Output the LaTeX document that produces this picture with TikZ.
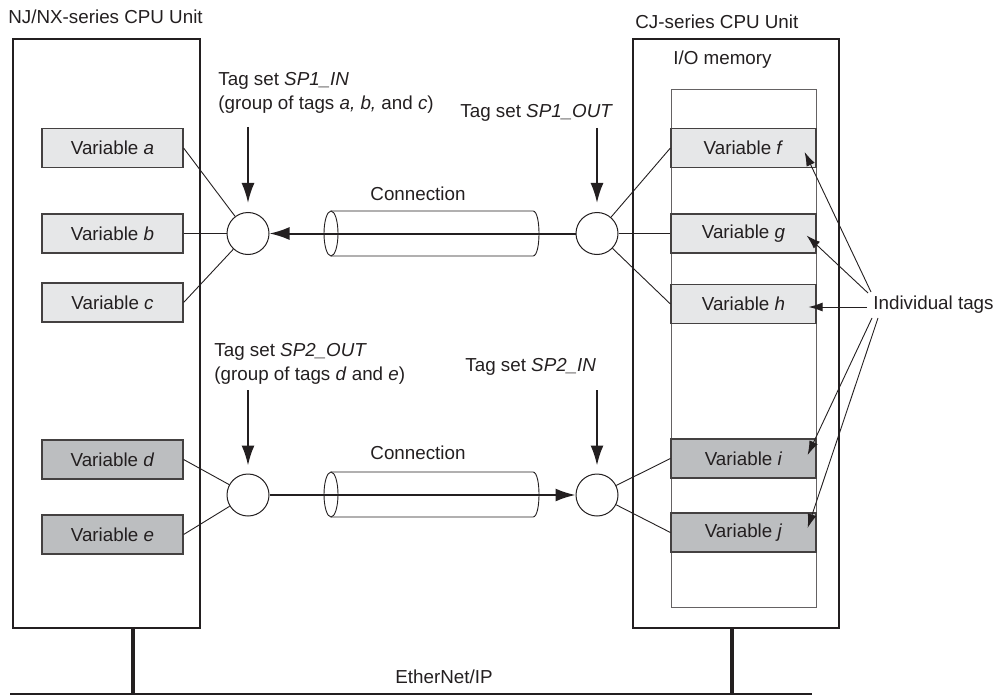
\documentclass[tikz,border=0pt]{standalone}
\usepackage{fontspec}
\setmainfont{Liberation Sans}
\usetikzlibrary{arrows.meta,calc}
\definecolor{ink}{RGB}{35,31,32}
\definecolor{lightvar}{RGB}{230,231,232}
\definecolor{darkvar}{RGB}{188,190,192}

\begin{document}
\begin{tikzpicture}[x=0.5pt,y=-0.5pt,
  every node/.style={font=\fontsize{9.4}{12}\selectfont, text=ink},
  lbl/.style={inner sep=0pt},
  cpubox/.style={draw=ink, line width=1pt},
  varbox/.style={draw=ink!85, line width=0.6pt, minimum height=19.5pt, inner sep=0pt},
  lvar/.style={varbox, minimum width=70.5pt},
  rvar/.style={varbox, minimum width=72.5pt},
  tagset/.style={circle, draw=ink, line width=0.5pt, minimum size=21pt, inner sep=0pt, fill=white},
  link/.style={draw=ink, line width=0.45pt},
  sendarrow/.style={draw=ink, line width=1pt, -{Latex[length=10pt,width=6.5pt]}},
  pointer/.style={draw=ink, line width=0.45pt, -{Latex[length=7pt,width=4.5pt]}}]
  \useasboundingbox (0,0) rectangle (999,695);

  % CPU units
  \draw[cpubox] (13,39) rectangle (200,628);
  \draw[cpubox] (633,39) rectangle (839,628);
  \draw[draw=ink!70, line width=0.5pt] (671,90) rectangle (816,607);
  \node[lbl, anchor=west] (njtitle) at (8,17) {NJ/NX-series CPU Unit};
  \node[lbl, anchor=west] (cjtitle) at (635,22) {CJ-series CPU Unit};
  \node[lbl, anchor=west] (iomem) at (673,60) {I/O memory};

  % variables
  \node[lvar, fill=lightvar] (va) at (112.5,148) {Variable \textit{a}};
  \node[lvar, fill=lightvar] (vb) at (112.5,233.5) {Variable \textit{b}};
  \node[lvar, fill=lightvar] (vc) at (112.5,302.5) {Variable \textit{c}};
  \node[lvar, fill=darkvar] (vd) at (112.5,459.5) {Variable \textit{d}};
  \node[lvar, fill=darkvar] (ve) at (112.5,534.5) {Variable \textit{e}};
  \node[rvar, fill=lightvar] (vf) at (743.5,148) {Variable \textit{f}};
  \node[rvar, fill=lightvar] (vg) at (743.5,233.5) {Variable \textit{g}};
  \node[rvar, fill=lightvar] (vh) at (743.5,304) {Variable \textit{h}};
  \node[rvar, fill=darkvar] (vi) at (743.5,458.5) {Variable \textit{i}};
  \node[rvar, fill=darkvar] (vj) at (743.5,532.5) {Variable \textit{j}};

  % connections
  \foreach \cy in {233.5,494.5} {
    \draw[link] (331,\cy) ellipse [x radius=7, y radius=22.5];
    \draw[link] (331,\cy-22.5) -- (533,\cy-22.5) .. controls (541,\cy-22.5) and (541,\cy+22.5) .. (533,\cy+22.5) -- (331,\cy+22.5);
  }
  \node[lbl] (conn1) at (418,194) {Connection};
  \node[lbl] (conn2) at (418,453) {Connection};

  % tag sets
  \node[tagset] (sp1in) at (248,233.5) {};
  \node[tagset] (sp1out) at (597,233.5) {};
  \node[tagset] (sp2out) at (248,495) {};
  \node[tagset] (sp2in) at (597,495) {};

  \draw[link] (sp1in) -- (va.east);
  \draw[link] (sp1in) -- (vb.east);
  \draw[link] (sp1in) -- (vc.east);
  \draw[link] (sp1out) -- (vf.west);
  \draw[link] (sp1out) -- (vg.west);
  \draw[link] (sp1out) -- (vh.west);
  \draw[link] (sp2out) -- (vd.east);
  \draw[link] (sp2out) -- (ve.east);
  \draw[link] (sp2in) -- (vi.west);
  \draw[link] (sp2in) -- (vj.west);

  \draw[sendarrow] (sp1out) -- (sp1in);
  \draw[sendarrow] (sp2out) -- (sp2in);

  \node[lbl, anchor=north west, align=left] (sp1in-lbl) at (218,72) {Tag set \textit{SP1\_IN}\\(group of tags \textit{a, b,} and \textit{c})};
  \node[lbl, anchor=west] (sp1out-lbl) at (460,113) {Tag set \textit{SP1\_OUT}};
  \node[lbl, anchor=north west, align=left] (sp2out-lbl) at (214,343) {Tag set \textit{SP2\_OUT}\\(group of tags \textit{d} and \textit{e})};
  \node[lbl, anchor=west] (sp2in-lbl) at (465,367) {Tag set \textit{SP2\_IN}};

  \coordinate (sp1in-src) at (248,127);
  \coordinate (sp1out-src) at (597,128);
  \coordinate (sp2out-src) at (248,390);
  \coordinate (sp2in-src) at (597,390);
  \draw[sendarrow, shorten >=4.5pt] (sp1in-src) -- (sp1in);
  \draw[sendarrow, shorten >=4.5pt] (sp1out-src) -- (sp1out);
  \draw[sendarrow, shorten >=4pt] (sp2out-src) -- (sp2out);
  \draw[sendarrow, shorten >=4pt] (sp2in-src) -- (sp2in);

  % individual tags
  \node[lbl, anchor=west] (indiv) at (873,305) {Individual tags};
  \draw[pointer] ($(indiv.west)+(-2,-13)$) -- ($(vf.east)+(-12,4)$);
  \draw[pointer] ($(indiv.west)+(-5,-12)$) -- ($(vg.east)+(-10,2)$);
  \draw[pointer] ($(indiv.west)+(-6,2)$) -- ($(vh.east)+(-8,3)$);
  \draw[pointer] ($(indiv.west)+(-1,13)$) -- ($(vi.east)+(-9,-3.5)$);
  \draw[pointer] ($(indiv.west)+(5,13)$) -- ($(vj.east)+(-9,-4.5)$);

  % EtherNet/IP
  \coordinate (bus-l) at (10,694);
  \coordinate (bus-r) at (812,694);
  \draw[ink, line width=0.8pt] (bus-l) -- (bus-r);
  \draw[ink, line width=1.6pt] (133,628) -- (133,694);
  \draw[ink, line width=1.6pt] (732,628) -- (732,694);
  \node[lbl, anchor=west] (enip) at (395,677) {EtherNet/IP};
\end{tikzpicture}
\end{document}
